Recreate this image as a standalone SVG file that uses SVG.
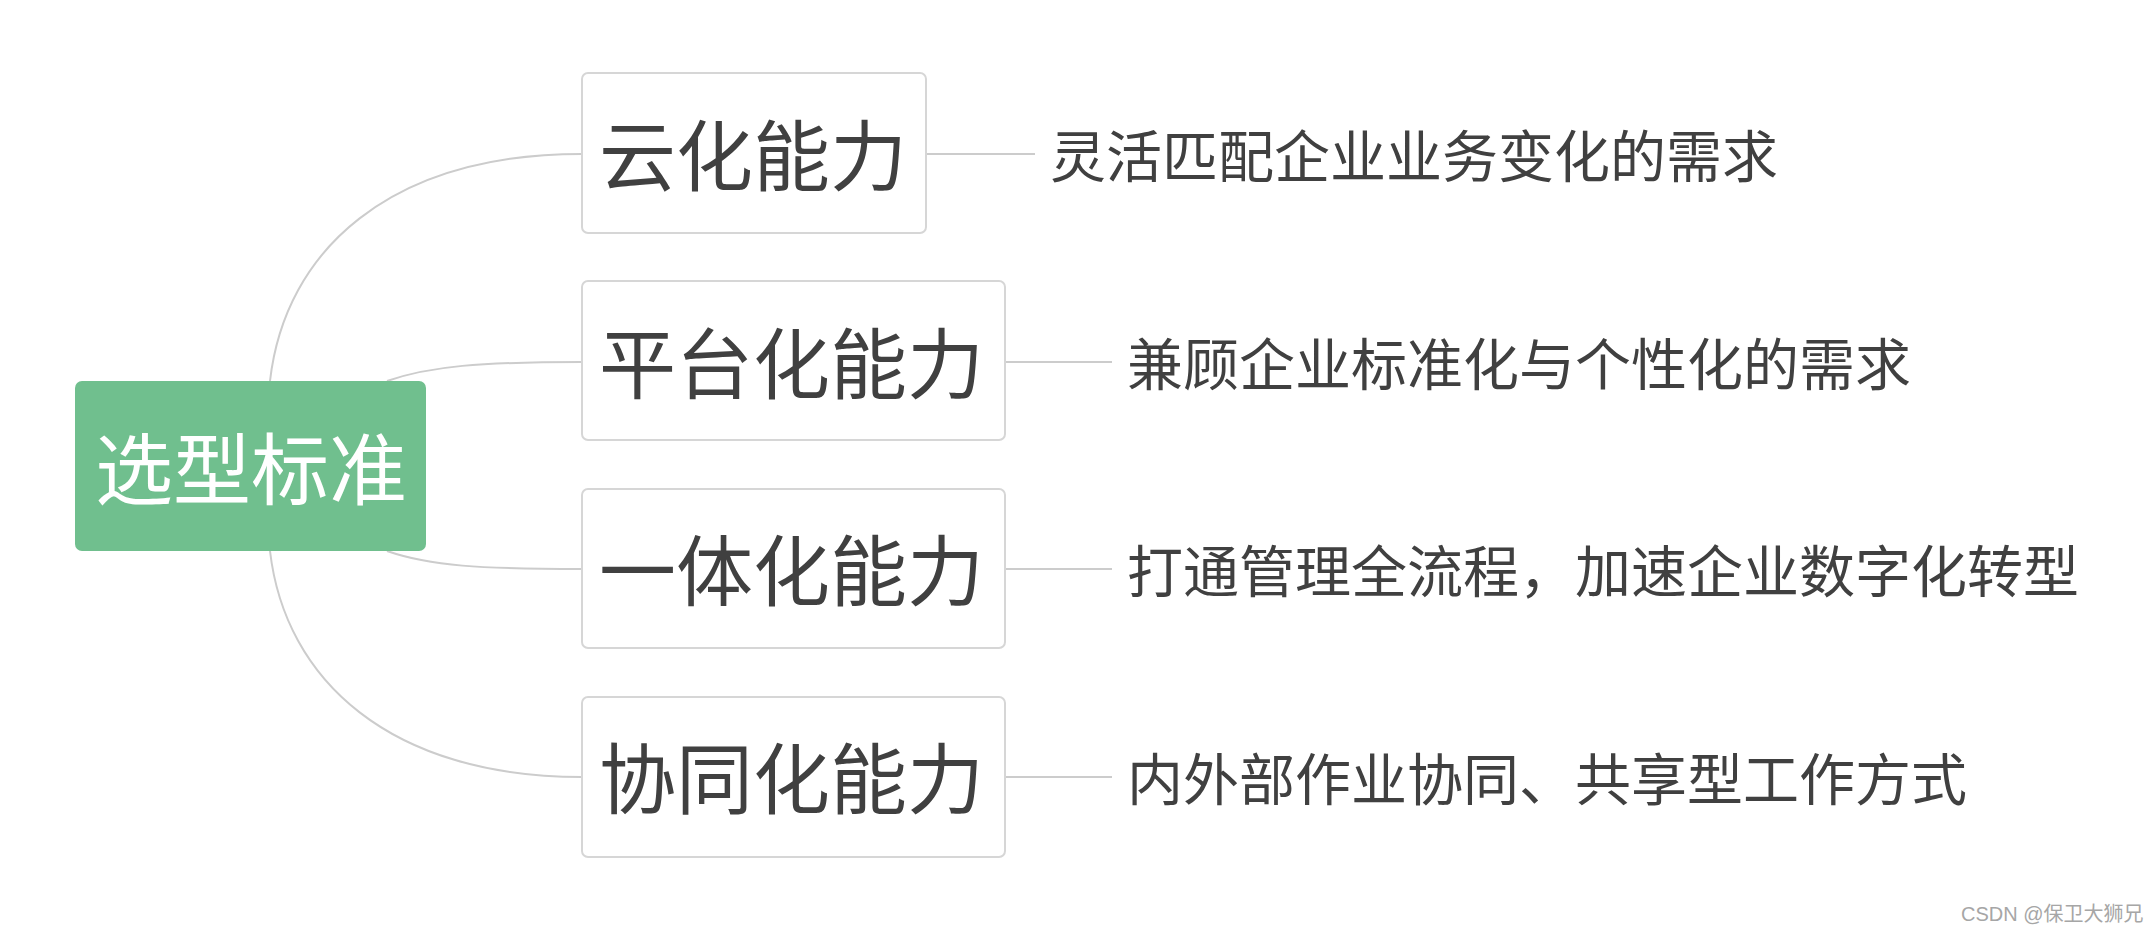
<svg xmlns="http://www.w3.org/2000/svg" width="2148" height="930" viewBox="0 0 2148 930">
  <style>
    .conn { fill: none; stroke: #cccccc; stroke-width: 2; }
    .box { fill: #ffffff; stroke: #d6d6d6; stroke-width: 2; }
    .root { fill: #70bf8e; }
    .t { font-family: "Noto Sans CJK SC", "Noto Sans", sans-serif; dominant-baseline: central; }
    .bt { font-size: 77px; fill: #404040; }
    .rt { font-size: 78px; fill: #ffffff; text-anchor: middle; }
    .dt { font-size: 56px; fill: #404040; }
    .wm { font-family: "Liberation Sans", "Noto Sans CJK SC", sans-serif; font-size: 20px; fill: #a6a6a6; }
  </style>
  <rect width="2148" height="930" fill="#ffffff"/>
  <g id="connectors">
    <path class="conn" d="M270,381 C285,250 390,154 582,154"/>
    <path class="conn" d="M387,381 C430,366 480,362 582,362"/>
    <path class="conn" d="M387,551 C430,566 480,569 582,569"/>
    <path class="conn" d="M270,551 C285,680 390,777 582,777"/>
    <path class="conn" d="M926,154 H1035"/>
    <path class="conn" d="M1005,362 H1112"/>
    <path class="conn" d="M1005,569 H1112"/>
    <path class="conn" d="M1005,777 H1112"/>
  </g>
  <g id="root">
    <rect class="root" x="75" y="381" width="351" height="170" rx="7"/>
    <text class="t rt" x="251" y="465">选型标准</text>
  </g>
  <g id="node1">
    <rect class="box" x="582" y="73" width="344" height="160" rx="6"/>
    <text class="t bt" x="599" y="151">云化能力</text>
  </g>
  <g id="node2">
    <rect class="box" x="582" y="281" width="423" height="159" rx="6"/>
    <text class="t bt" x="599" y="359">平台化能力</text>
  </g>
  <g id="node3">
    <rect class="box" x="582" y="489" width="423" height="159" rx="6"/>
    <text class="t bt" x="599" y="566">一体化能力</text>
  </g>
  <g id="node4">
    <rect class="box" x="582" y="697" width="423" height="160" rx="6"/>
    <text class="t bt" x="599" y="774">协同化能力</text>
  </g>
  <g id="desc1">
    <text class="t dt" x="1050" y="152">灵活匹配企业业务变化的需求</text>
  </g>
  <g id="desc2">
    <text class="t dt" x="1127" y="360">兼顾企业标准化与个性化的需求</text>
  </g>
  <g id="desc3">
    <text class="t dt" x="1127" y="567">打通管理全流程，加速企业数字化转型</text>
  </g>
  <g id="desc4">
    <text class="t dt" x="1127" y="775">内外部作业协同、共享型工作方式</text>
  </g>
  <text class="wm" x="1961" y="921">CSDN @保卫大狮兄</text>
</svg>
